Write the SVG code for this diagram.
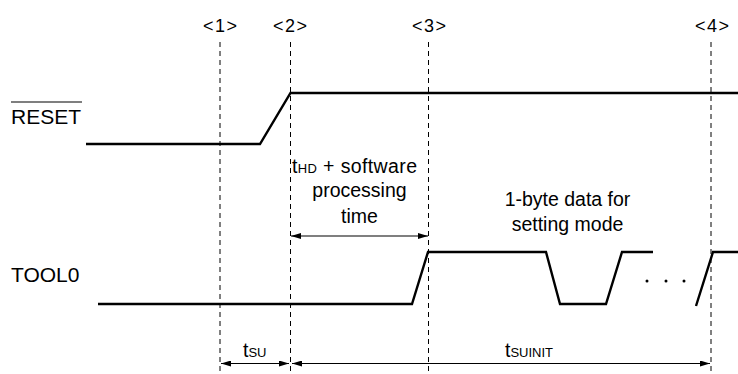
<svg xmlns="http://www.w3.org/2000/svg" width="738" height="374" viewBox="0 0 738 374">
<style>
.sig{fill:none;stroke:#000;stroke-width:2.4;stroke-linejoin:miter}
.dash{fill:none;stroke:#000;stroke-width:1;stroke-dasharray:5 4}
.dim{fill:none;stroke:#000;stroke-width:1.2}
text{font-family:"Liberation Sans",Arial,sans-serif;fill:#000}
.lbl{font-size:21px}
.ann{font-size:19.5px}
.mk{font-size:18px}
</style>
<defs>
<marker id="ah" viewBox="0 0 10 6" refX="10" refY="3" markerWidth="10" markerHeight="6" markerUnits="userSpaceOnUse" orient="auto-start-reverse">
<path d="M0,0 L10,3 L0,6 Z" fill="#000"/>
</marker>
</defs>
<g id="markers">
<line class="dash" x1="220" y1="42" x2="220" y2="374"/>
<line class="dash" x1="290.5" y1="42" x2="290.5" y2="374"/>
<line class="dash" x1="428.5" y1="42" x2="428.5" y2="374"/>
<line class="dash" x1="711" y1="42" x2="711" y2="374"/>
<text class="mk" x="220" y="31.5" text-anchor="middle" textLength="34" lengthAdjust="spacing">&lt;1&gt;</text>
<text class="mk" x="290" y="31.5" text-anchor="middle" textLength="34" lengthAdjust="spacing">&lt;2&gt;</text>
<text class="mk" x="429" y="31.5" text-anchor="middle" textLength="34" lengthAdjust="spacing">&lt;3&gt;</text>
<text class="mk" x="712" y="31.5" text-anchor="middle" textLength="34" lengthAdjust="spacing">&lt;4&gt;</text>
</g>
<g id="reset">
<text class="lbl" x="11" y="123.5">RESET</text>
<line x1="11" y1="102" x2="82" y2="102" stroke="#000" stroke-width="1.2"/>
<polyline class="sig" points="86,144 260,144 290.5,93 738,93"/>
</g>
<g id="tool0">
<text class="lbl" x="11" y="282">TOOL0</text>
<polyline class="sig" points="98,304 412,304 428,252 546,252 560,304 606,304 622,252 653,252"/>
<polyline class="sig" points="696,306 713,252 738,252"/>
<circle cx="647" cy="281" r="1.5" fill="#000"/>
<circle cx="666" cy="281" r="1.5" fill="#000"/>
<circle cx="684" cy="281" r="1.5" fill="#000"/>
</g>
<g id="connectors">
<line class="dim" x1="291" y1="236" x2="428" y2="236" marker-start="url(#ah)" marker-end="url(#ah)"/>
<line class="dim" x1="221" y1="363.5" x2="289" y2="363.5" marker-start="url(#ah)" marker-end="url(#ah)"/>
<line class="dim" x1="292" y1="363.5" x2="710" y2="363.5" marker-start="url(#ah)" marker-end="url(#ah)"/>
</g>
<g id="labels">
<text class="ann" x="292" y="172.5" textLength="125" lengthAdjust="spacing">t<tspan font-size="13">HD</tspan> + software</text>
<text class="ann" x="359.5" y="197" text-anchor="middle">processing</text>
<text class="ann" x="359.5" y="222.5" text-anchor="middle">time</text>
<text class="ann" x="567.5" y="206" text-anchor="middle">1-byte data for</text>
<text class="ann" x="567.5" y="231" text-anchor="middle">setting mode</text>
<text class="ann" x="243" y="357">t<tspan font-size="13">SU</tspan></text>
<text class="ann" x="505" y="357">t<tspan font-size="13">SUINIT</tspan></text>
</g>
</svg>
